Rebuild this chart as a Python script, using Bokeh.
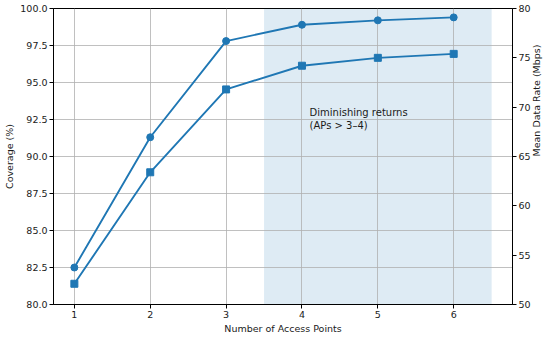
import math
from bokeh.plotting import figure
from bokeh.models import (Range1d, LinearAxis, BoxAnnotation, Label, FixedTicker,
                          ColumnDataSource, CustomJSTickFormatter)
from bokeh.embed import file_html
from bokeh.resources import INLINE

access_points = [1, 2, 3, 4, 5, 6]
coverage = [82.5, 91.3, 97.8, 98.9, 99.2, 99.4]
data_rate = [52.1, 63.4, 71.8, 74.2, 75.0, 75.4]
left_ticks = [80.0, 82.5, 85.0, 87.5, 90.0, 92.5, 95.0, 97.5, 100.0]
right_ticks = [50, 55, 60, 65, 70, 75, 80]

BLUE = "#1f77b4"
FONT = "DejaVu Sans"
FS = "9.5px"
TXT = "#1a1a1a"

src = ColumnDataSource(dict(x=access_points, cov=coverage, rate=data_rate))

p = figure(width=550, height=337, output_backend="svg", toolbar_location=None,
           x_range=Range1d(0.725, 6.775), y_range=Range1d(80, 100),
           min_border_left=53, min_border_right=35, min_border_top=8, min_border_bottom=33)
p.extra_y_ranges = {"rate": Range1d(50, 80)}

p.outline_line_color = "black"
p.outline_line_width = 1
p.background_fill_color = "white"
p.border_fill_color = "white"

shade = BoxAnnotation(left=3.5, right=6.5, fill_color=BLUE, fill_alpha=0.15,
                      line_color=None, level="image")
p.add_layout(shade)

for g in (p.xgrid, p.ygrid):
    g.grid_line_color = "#b0b0b0"
    g.grid_line_width = 0.8

p.line("x", "cov", source=src, color=BLUE, line_width=1.9)
p.scatter("x", "cov", source=src, marker="circle", size=7, color=BLUE)
p.line("x", "rate", source=src, color=BLUE, line_width=1.9, y_range_name="rate")
p.scatter("x", "rate", source=src, marker="square", size=7, color=BLUE, y_range_name="rate")

right_axis = LinearAxis(y_range_name="rate", axis_label="Mean Data Rate (Mbps)")
p.add_layout(right_axis, "right")

p.xaxis.ticker = FixedTicker(ticks=access_points)
p.yaxis[0].ticker = FixedTicker(ticks=left_ticks)
right_axis.ticker = FixedTicker(ticks=right_ticks)
p.yaxis[0].formatter = CustomJSTickFormatter(code="return tick.toFixed(1);")

p.xaxis.axis_label = "Number of Access Points"
p.yaxis[0].axis_label = "Coverage (%)"

for ax in p.xaxis + p.yaxis:
    ax.major_label_text_font = FONT
    ax.major_label_text_font_size = FS
    ax.major_label_text_color = TXT
    ax.axis_label_text_font = FONT
    ax.axis_label_text_font_size = FS
    ax.axis_label_text_font_style = "normal"
    ax.axis_label_text_color = TXT
    ax.axis_line_color = "black"
    ax.major_tick_line_color = "black"
    ax.major_tick_out = 4
    ax.major_tick_in = 0
    ax.minor_tick_line_color = None
    ax.major_label_standoff = 2
    ax.axis_label_standoff = 2

right_axis.axis_label_orientation = math.pi / 2
right_axis.axis_label_standoff = 3

label = Label(x=4.1, y=91.7, text="Diminishing returns\n(APs > 3\u20134)",
              text_font=FONT, text_font_size="10px", text_color=TXT,
              text_baseline="bottom", text_align="left")
p.add_layout(label)

open("out.html", "w").write(file_html(p, INLINE))
